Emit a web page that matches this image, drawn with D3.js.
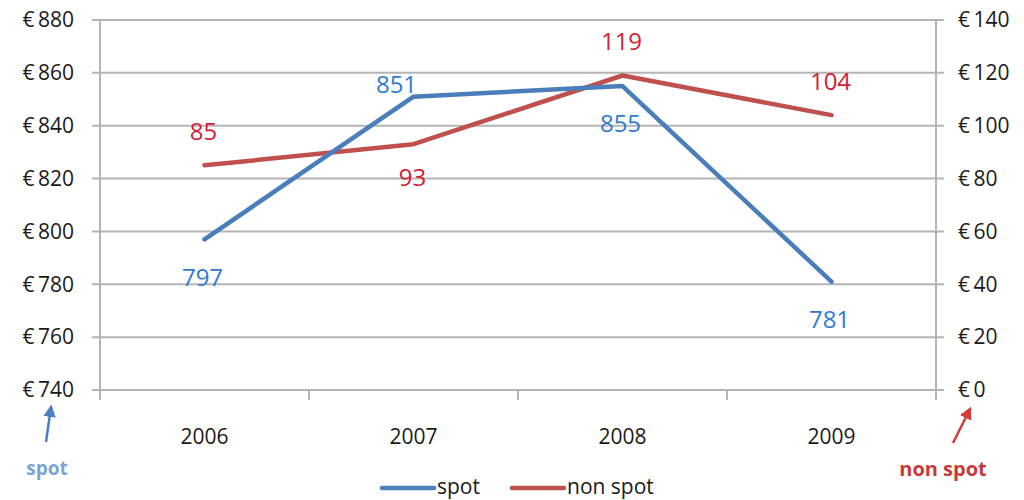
<!DOCTYPE html>
<html><head><meta charset="utf-8">
<script src="https://cdn.jsdelivr.net/npm/d3@7"></script>
<style>
body{margin:0;background:#fff;}
svg text{font-family:"Open Sans","Noto Sans",sans-serif;}
</style></head>
<body><svg id="c" width="1024" height="500"></svg>
<script>
const years = ["2006","2007","2008","2009"];
const spot = [797, 851, 855, 781];
const nonSpot = [85, 93, 119, 104];
const leftTicks = [740, 760, 780, 800, 820, 840, 860, 880];
const rightTicks = [0, 20, 40, 60, 80, 100, 120, 140];
const spotLabelPos = ["below", "above", "below", "below"];
const nonSpotLabelPos = ["above", "below", "above", "above"];

const svg = d3.select("#c");
const L = 100, R = 936, T = 20, B = 390;
const x = d3.scaleBand().domain(years).range([L, R]);
const yL = d3.scaleLinear().domain([740, 880]).range([B, T]);
const yR = d3.scaleLinear().domain([0, 140]).range([B, T]);
const cx = d => x(d) + x.bandwidth() / 2;

const grid = "#b4b4b4";
svg.append("g").selectAll("line").data(leftTicks).join("line")
  .attr("x1", L - 8).attr("x2", R + 8)
  .attr("y1", d => yL(d)).attr("y2", d => yL(d))
  .attr("stroke", grid).attr("stroke-width", 2);
[L, R].forEach(xx => svg.append("line").attr("x1", xx).attr("x2", xx)
  .attr("y1", T).attr("y2", B + 10).attr("stroke", grid).attr("stroke-width", 2));
const bounds = years.map(y => x(y)).concat([R]);
svg.append("g").selectAll("line").data(bounds).join("line")
  .attr("x1", d => d).attr("x2", d => d).attr("y1", B).attr("y2", B + 10)
  .attr("stroke", grid).attr("stroke-width", 2);

const fmt = v => "€\u2009" + v;
const tickFont = 21;
svg.append("g").selectAll("text").data(leftTicks).join("text")
  .attr("x", 74).attr("y", d => yL(d)).attr("dy", "0.35em")
  .attr("text-anchor", "end").attr("font-size", tickFont).attr("fill", "#1a1a1a")
  .text(fmt);
svg.append("g").selectAll("text").data(rightTicks).join("text")
  .attr("x", 958).attr("y", d => yR(d)).attr("dy", "0.35em")
  .attr("text-anchor", "start").attr("font-size", tickFont).attr("fill", "#1a1a1a")
  .text(fmt);
svg.append("g").selectAll("text").data(years).join("text")
  .attr("x", d => cx(d)).attr("y", 437).attr("dy", "0.35em")
  .attr("text-anchor", "middle").attr("font-size", tickFont).attr("fill", "#1a1a1a")
  .text(d => d);

const blue = "#4a7ebb", red = "#c0504d";
const blueText = "#2e7bd0", redText = "#d42035";
const lineL = d3.line().x((d, i) => cx(years[i])).y(d => yL(d));
const lineR = d3.line().x((d, i) => cx(years[i])).y(d => yR(d));
svg.append("path").attr("d", lineR(nonSpot)).attr("fill", "none")
  .attr("stroke", red).attr("stroke-width", 4.5).attr("stroke-linejoin", "round").attr("stroke-linecap", "round");
svg.append("path").attr("d", lineL(spot)).attr("fill", "none")
  .attr("stroke", blue).attr("stroke-width", 4.5).attr("stroke-linejoin", "round").attr("stroke-linecap", "round");

const lblFont = 24;
svg.append("g").selectAll("text").data(spot).join("text")
  .attr("x", (d, i) => cx(years[i]) + (spotLabelPos[i] === "above" ? -17 : -2))
  .attr("y", (d, i) => yL(d) + (spotLabelPos[i] === "above" ? -12 : 38))
  .attr("dy", "0.35em").attr("text-anchor", "middle")
  .attr("font-size", lblFont).attr("fill", blueText).text(d => d);
svg.append("g").selectAll("text").data(nonSpot).join("text")
  .attr("x", (d, i) => cx(years[i]) - 1)
  .attr("y", (d, i) => yR(d) + (nonSpotLabelPos[i] === "above" ? -34 : 33))
  .attr("dy", "0.35em").attr("text-anchor", "middle")
  .attr("font-size", lblFont).attr("fill", redText).text(d => d);

const lg = svg.append("g");
lg.append("line").attr("x1", 382).attr("x2", 434).attr("y1", 488).attr("y2", 488)
  .attr("stroke", blue).attr("stroke-width", 4.5).attr("stroke-linecap", "round");
lg.append("text").attr("x", 437).attr("y", 487).attr("dy", "0.35em")
  .attr("font-size", tickFont).attr("fill", "#1a1a1a").text("spot");
lg.append("line").attr("x1", 512).attr("x2", 564).attr("y1", 488).attr("y2", 488)
  .attr("stroke", red).attr("stroke-width", 4.5).attr("stroke-linecap", "round");
lg.append("text").attr("x", 567).attr("y", 487).attr("dy", "0.35em")
  .attr("font-size", tickFont).attr("fill", "#1a1a1a").text("non spot");

const defs = svg.append("defs");
[["ab", "#4a7fc4"], ["ar", "#d43a3a"]].forEach(([id, c]) => {
  defs.append("marker").attr("id", id).attr("viewBox", "0 0 10 10").attr("refX", 8).attr("refY", 5)
    .attr("markerWidth", 5).attr("markerHeight", 5).attr("orient", "auto")
    .append("path").attr("d", "M0,0L10,5L0,10Z").attr("fill", c);
});
svg.append("line").attr("x1", 46).attr("y1", 442).attr("x2", 51).attr("y2", 407)
  .attr("stroke", "#4a7fc4").attr("stroke-width", 2.5).attr("marker-end", "url(#ab)");
svg.append("text").attr("x", 47).attr("y", 475).attr("text-anchor", "middle")
  .attr("font-size", 19).attr("font-weight", "bold").attr("fill", "#7aa3d6").text("spot");
svg.append("line").attr("x1", 953).attr("y1", 443).attr("x2", 970).attr("y2", 409)
  .attr("stroke", "#d43a3a").attr("stroke-width", 2.5).attr("marker-end", "url(#ar)");
svg.append("text").attr("x", 943).attr("y", 476).attr("text-anchor", "middle")
  .attr("font-size", 20).attr("font-weight", "bold").attr("fill", "#c83a3a").text("non spot");
</script></body></html>
